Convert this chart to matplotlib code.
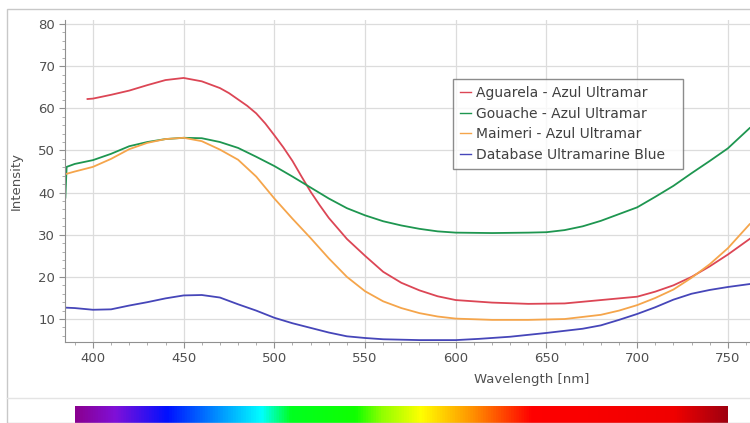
import numpy as np
import matplotlib
matplotlib.use('Agg')
import matplotlib.pyplot as plt
from matplotlib.colors import LinearSegmentedColormap
from matplotlib.patches import Rectangle
from matplotlib.lines import Line2D
from matplotlib.ticker import MultipleLocator

plt.rcParams['font.family'] = 'DejaVu Sans'

# spectra (wavelength in nm, intensity in a.u.)
wl_aguarela = [397, 400, 410, 420, 430, 440, 450, 460, 470, 475, 480, 485,
               490, 495, 500, 505, 510, 515, 520, 525, 530, 540, 550, 560,
               570, 580, 590, 600, 620, 640, 660, 680, 700, 710, 720, 730,
               740, 750, 762]
int_aguarela = [62.2, 62.3, 63.2, 64.2, 65.5, 66.7, 67.2, 66.4, 64.8, 63.6,
                62.1, 60.6, 58.8, 56.4, 53.6, 50.7, 47.5, 43.8, 40.2, 37.0,
                34.0, 29.0, 25.0, 21.2, 18.6, 16.8, 15.4, 14.5, 13.9, 13.6,
                13.7, 14.5, 15.3, 16.5, 18.0, 20.0, 22.5, 25.3, 29.0]

wl_gouache = [384.8, 385.5, 390, 400, 410, 420, 430, 440, 450, 460, 470, 480,
              490, 500, 510, 520, 530, 540, 550, 560, 570, 580, 590, 600,
              620, 640, 650, 660, 670, 680, 690, 700, 710, 720, 730, 740,
              750, 762]
int_gouache = [38.8, 46.1, 46.8, 47.7, 49.2, 51.0, 52.0, 52.7, 53.0, 52.9,
               52.0, 50.6, 48.5, 46.3, 43.8, 41.2, 38.6, 36.3, 34.6, 33.2,
               32.2, 31.4, 30.8, 30.5, 30.4, 30.5, 30.6, 31.1, 32.0, 33.3,
               34.9, 36.5, 39.0, 41.6, 44.6, 47.5, 50.5, 55.3]

wl_maimeri = [385, 390, 400, 410, 420, 430, 440, 450, 460, 470, 480, 490,
              500, 510, 520, 530, 540, 550, 560, 570, 580, 590, 600, 620,
              640, 660, 680, 690, 700, 710, 720, 730, 740, 750, 762]
int_maimeri = [44.4, 45.0, 46.1, 48.0, 50.3, 51.8, 52.7, 53.0, 52.2, 50.2,
               47.8, 43.8, 38.6, 33.8, 29.2, 24.4, 20.0, 16.6, 14.2, 12.6,
               11.4, 10.6, 10.1, 9.8, 9.8, 10.0, 11.0, 12.0, 13.3, 15.0,
               17.0, 19.8, 23.0, 26.8, 32.5]

wl_database = [385, 390, 400, 410, 420, 430, 440, 450, 460, 470, 480, 490,
               500, 510, 520, 530, 540, 550, 560, 580, 600, 613, 630, 650,
               670, 680, 690, 700, 710, 720, 730, 740, 750, 762]
int_database = [12.7, 12.6, 12.2, 12.3, 13.2, 14.0, 14.9, 15.6, 15.7, 15.1,
                13.5, 12.0, 10.3, 9.0, 7.9, 6.8, 5.9, 5.5, 5.2, 5.0, 5.0,
                5.3, 5.8, 6.7, 7.7, 8.5, 9.8, 11.2, 12.8, 14.6, 16.0, 16.9,
                17.6, 18.3]

labels = ['Aguarela - Azul Ultramar', 'Gouache - Azul Ultramar',
          'Maimeri - Azul Ultramar', 'Database Ultramarine Blue']
colors = ['#dc4655', '#1e9650', '#f5a54b', '#4646b9']

# visible spectrum strip
spec_pos = [0.0, 0.06, 0.14, 0.285, 0.33, 0.43, 0.47, 0.53, 0.61, 0.70,
            0.92, 1.0]
spec_col = ['#8a0090', '#8010d8', '#0010ff', '#00ffff', '#00ff20', '#10ff00',
            '#90ff00', '#ffff00', '#ff9000', '#ff0000', '#f00000', '#a00010']

W, H = 750, 423
fig = plt.figure(figsize=(W / 100, H / 100), dpi=100)
fig.patch.set_facecolor('white')

# outer frame and separator
fig.add_artist(Rectangle((7 / W, 0), 1.0, 1 - 9 / H, transform=fig.transFigure,
                         fill=False, ec='#c8c8c8', lw=1.0))
fig.add_artist(Line2D([7 / W, 1], [1 - 398 / H, 1 - 398 / H],
                      transform=fig.transFigure, color='#e4e4e4', lw=1.0))

ax = fig.add_axes([65 / W, 1 - 342 / H, 1 - 65 / W, (342 - 20) / H])
data = [(wl_aguarela, int_aguarela), (wl_gouache, int_gouache),
        (wl_maimeri, int_maimeri), (wl_database, int_database)]
for (x, y), lab, c in zip(data, labels, colors):
    ax.plot(x, y, color=c, lw=1.3, label=lab)

ax.set_xlim(384.6, 762.2)
ax.set_ylim(4.55, 80.95)
ax.xaxis.set_major_locator(MultipleLocator(50))
ax.xaxis.set_minor_locator(MultipleLocator(10))
ax.yaxis.set_major_locator(MultipleLocator(10))
ax.yaxis.set_minor_locator(MultipleLocator(2))
ax.set_yticks(range(10, 81, 10))
ax.grid(True, which='major', color='#dcdcdc', lw=0.9)
ax.set_axisbelow(True)
for s in ['top', 'right']:
    ax.spines[s].set_visible(False)
for s in ['left', 'bottom']:
    ax.spines[s].set_color('#909090')
ax.tick_params(which='major', direction='out', length=4, color='#909090',
               labelcolor='#505050', labelsize=9.5, pad=3)
ax.tick_params(which='minor', direction='out', length=2, color='#a0a0a0')

ax.set_xlabel('Wavelength [nm]', fontsize=9.5, color='#505050')
ax.xaxis.set_label_coords(0.682, -0.095)
ax.set_ylabel('Intensity', fontsize=9.5, color='#505050')
ax.yaxis.set_label_coords(-0.062, 0.5)

leg = ax.legend(loc='upper left', bbox_to_anchor=(0.566, 0.3, 0.336, 0.517),
                mode='expand', fontsize=10, handlelength=0.8,
                handletextpad=0.4, labelspacing=0.48, borderpad=0.5,
                fancybox=False, frameon=True, borderaxespad=0)
leg.get_frame().set_edgecolor('#707070')
leg.get_frame().set_linewidth(1.0)
for t in leg.get_texts():
    t.set_color('#404040')
for h in leg.get_lines():
    h.set_linewidth(1.0)

# colour strip under the chart
cax = fig.add_axes([75 / W, 0, (728 - 75) / W, (H - 406) / H])
cmap = LinearSegmentedColormap.from_list('spectrum',
                                         list(zip(spec_pos, spec_col)))
cax.imshow(np.linspace(0, 1, 512)[None, :], aspect='auto', cmap=cmap,
           extent=[0, 1, 0, 1])
cax.set_axis_off()

fig.savefig('out.png', dpi=100)
